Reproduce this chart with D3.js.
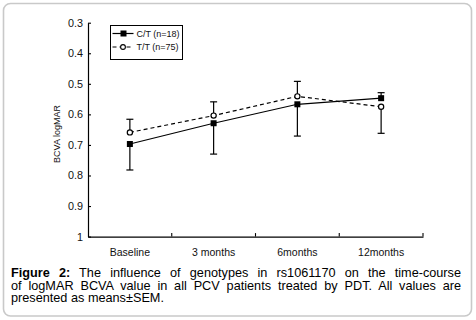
<!DOCTYPE html>
<html>
<head>
<meta charset="utf-8">
<script src="https://cdn.jsdelivr.net/npm/d3@7"></script>
<style>
body { margin: 0; background: #fff; font-family: Arial, "Liberation Sans", sans-serif; }
#wrap { position: relative; width: 476px; height: 320px; }
#wrap svg { position: absolute; left: 0; top: 0; }
.cap { position: absolute; left: 11px; width: 450px; font-size: 12.7px; line-height: 12.5px; color: #000; }
.cap .ln { text-align: justify; text-align-last: justify; height: 12.5px; }
.cap .ln.last { text-align-last: left; }
</style>
</head>
<body>
<div id="wrap"></div>
<script>
// data
const categories = ["Baseline", "3 months", "6months", "12months"];
const ctMean = [0.697, 0.629, 0.567, 0.547];
const ctSem  = [0.085, 0.101, 0.104, 0.018];
const ttMean = [0.659, 0.604, 0.541, 0.575];
const ttSem  = [0.043, 0.045, 0.049, 0.087];
const yTicks = [0.3, 0.4, 0.5, 0.6, 0.7, 0.8, 0.9, 1];
const yTickLabels = ["0.3", "0.4", "0.5", "0.6", "0.7", "0.8", "0.9", "1"];
const seriesNames = ["C/T (n=18)", "T/T (n=75)"];
const yLabel = "BCVA logMAR";
const captionLines = [
    "<b>Figure 2:</b> The influence of genotypes in rs1061170 on the time-course",
    "of logMAR BCVA value in all PCV patients treated by PDT. All values are",
    "presented as means±SEM."
];

const W = 476, H = 320;
const margin = {left: 88, right: 53, top: 22.7, bottom: 83.4};

const wrap = d3.select("#wrap");
const svg = wrap.append("svg").attr("width", W).attr("height", H);

// outer frame
svg.append("rect")
    .attr("x", 3.5).attr("y", 3.5)
    .attr("width", 468).attr("height", 312.5)
    .attr("rx", 7).attr("ry", 7)
    .attr("fill", "none")
    .attr("stroke", "#c9c9c9")
    .attr("stroke-width", 1.6);

const x = d3.scaleBand().domain(categories).range([margin.left, W - margin.right]);
const y = d3.scaleLinear().domain([0.3, 1]).range([margin.top, H - margin.bottom]);

const font = 'Arial, "Liberation Sans", sans-serif';

// axes
const yAxis = svg.append("g")
    .attr("transform", `translate(${margin.left},0)`)
    .call(d3.axisLeft(y).tickValues(yTicks)
        .tickFormat((d, i) => yTickLabels[i])
        .tickSize(-3).tickSizeOuter(0).tickPadding(5));
yAxis.select(".domain").attr("stroke", "#000").attr("stroke-width", 1.2);
yAxis.selectAll(".tick line").attr("stroke", "#000").attr("stroke-width", 1.1);
yAxis.selectAll("text").attr("font-size", "10.8px").attr("font-family", font).attr("fill", "#111");

const xAxis = svg.append("g")
    .attr("transform", `translate(0,${y(1)})`)
    .call(d3.axisBottom(x).tickSize(0).tickSizeOuter(0).tickPadding(12));
xAxis.select(".domain").attr("stroke", "#000").attr("stroke-width", 1.2);
xAxis.selectAll("text").attr("font-size", "10.5px").attr("font-family", font).attr("fill", "#111");

// band boundary ticks, pointing up
const bounds = categories.map(c => x(c) + x.bandwidth());
xAxis.selectAll(".btick")
    .data(bounds)
    .enter().append("line")
    .attr("x1", d => d).attr("x2", d => d)
    .attr("y1", 0).attr("y2", -3.5)
    .attr("stroke", "#000").attr("stroke-width", 1.1);

// y label
svg.append("text")
    .attr("transform", `translate(59.5,134) rotate(-90)`)
    .attr("text-anchor", "middle")
    .attr("font-size", "9px")
    .attr("font-family", font)
    .attr("fill", "#111")
    .text(yLabel);

const cx = c => x(c) + x.bandwidth() / 2;

const series = [
    {mean: ctMean, sem: ctSem, other: ttMean, dash: null, marker: "square"},
    {mean: ttMean, sem: ttSem, other: ctMean, dash: "4,3", marker: "circle"}
];

const line = d3.line().x(d => cx(d.c)).y(d => y(d.v));

series.forEach(s => {
    const pts = categories.map((c, i) => ({c: c, v: s.mean[i], e: s.sem[i], o: s.other[i]}));

    // error bars point away from the other group
    const g = svg.append("g");
    const eb = g.selectAll(".eb").data(pts).enter().append("g");
    const tip = d => d.v > d.o ? d.v + d.e : d.v - d.e;
    eb.append("line")
        .attr("x1", d => cx(d.c)).attr("x2", d => cx(d.c))
        .attr("y1", d => y(d.v)).attr("y2", d => y(tip(d)))
        .attr("stroke", "#000").attr("stroke-width", 1.2);
    eb.append("line")
        .attr("x1", d => cx(d.c) - 3.5).attr("x2", d => cx(d.c) + 3.5)
        .attr("y1", d => y(tip(d))).attr("y2", d => y(tip(d)))
        .attr("stroke", "#000").attr("stroke-width", 1.2);

    g.append("path")
        .datum(pts)
        .attr("d", line)
        .attr("fill", "none")
        .attr("stroke", "#000")
        .attr("stroke-width", 1.2)
        .attr("stroke-dasharray", s.dash);

    if (s.marker === "square") {
        g.selectAll(".m").data(pts).enter().append("rect")
            .attr("x", d => cx(d.c) - 3).attr("y", d => y(d.v) - 3)
            .attr("width", 6).attr("height", 6)
            .attr("fill", "#000");
    } else {
        g.selectAll(".m").data(pts).enter().append("circle")
            .attr("cx", d => cx(d.c)).attr("cy", d => y(d.v))
            .attr("r", 2.6)
            .attr("fill", "#fff").attr("stroke", "#000").attr("stroke-width", 1.2);
    }
});

// legend
const legend = svg.append("g").attr("transform", "translate(110.5,25.5)");
legend.append("rect")
    .attr("width", 72).attr("height", 34)
    .attr("fill", "#fff").attr("stroke", "#000").attr("stroke-width", 1);

const items = legend.selectAll(".li")
    .data(series)
    .enter().append("g")
    .attr("transform", (d, i) => `translate(0,${8 + i * 13.5})`);
items.append("line")
    .attr("x1", 2).attr("x2", 23)
    .attr("stroke", "#000").attr("stroke-width", 1.2)
    .attr("stroke-dasharray", d => d.dash);
items.each(function(d) {
    const it = d3.select(this);
    if (d.marker === "square") {
        it.append("rect").attr("x", 10).attr("y", -3).attr("width", 6).attr("height", 6).attr("fill", "#000");
    } else {
        it.append("circle").attr("cx", 12.5).attr("r", 2.4)
            .attr("fill", "#fff").attr("stroke", "#000").attr("stroke-width", 1.1);
    }
});
items.append("text")
    .attr("x", 26)
    .attr("y", 3.2)
    .attr("font-size", "9px")
    .attr("font-family", font)
    .attr("fill", "#111")
    .text((d, i) => seriesNames[i]);

// caption
const cap = wrap.append("div").attr("class", "cap").style("top", "267px");
cap.selectAll(".ln")
    .data(captionLines)
    .enter().append("div")
    .attr("class", (d, i) => i === captionLines.length - 1 ? "ln last" : "ln")
    .html(d => d);
</script>
</body>
</html>
